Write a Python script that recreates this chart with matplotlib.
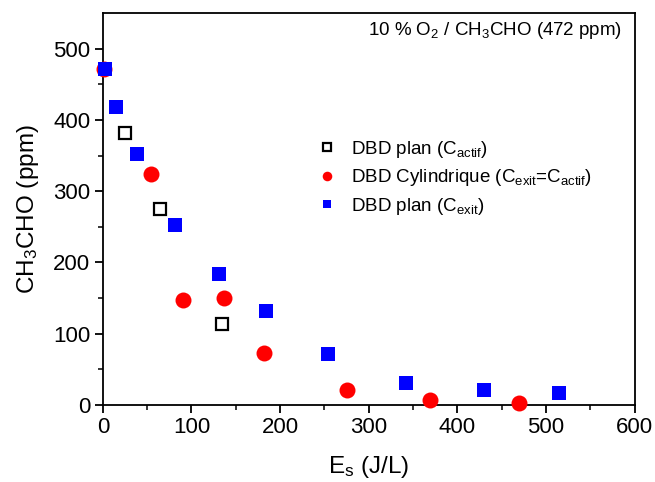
import numpy as np
import matplotlib
matplotlib.use('Agg')
import matplotlib.pyplot as plt

plt.rcParams['font.family'] = ['Liberation Sans', 'DejaVu Sans']
plt.rcParams['mathtext.fontset'] = 'custom'
plt.rcParams['mathtext.rm'] = 'Liberation Sans'
plt.rcParams['mathtext.it'] = 'Liberation Sans:italic'

# DBD plan (C_actif) - open black squares
es_actif = [25.1, 64.3, 134.2]
c_actif = [382, 275, 113]

# DBD cylindrique (C_exit = C_actif) - red circles
es_cyl = [1.5, 54, 90.5, 136.8, 181.8, 275.8, 369, 469.3]
c_cyl = [472, 324, 147.5, 150, 72.6, 21.5, 7, 3.2]

# DBD plan (C_exit) - blue squares
es_exit = [3, 15.4, 39, 81.5, 131.5, 183.8, 254.3, 342, 429.5, 514.4]
c_exit = [472, 418, 352, 253, 183, 132, 71, 31, 20.6, 16.4]

fig = plt.figure(figsize=(6.55, 4.82), dpi=100)
ax = fig.add_axes([0.157, 0.16, 0.812, 0.813])

ax.plot(es_cyl, c_cyl, 'o', color='#ff0000', markersize=11.5, markeredgewidth=0,
        label='DBD Cylindrique (C$_{\\mathregular{exit}}$=C$_{\\mathregular{actif}}$)', clip_on=False, zorder=3)
ax.plot(es_exit, c_exit, 's', color='#0000ff', markersize=10, markeredgewidth=0,
        label='DBD plan (C$_{\\mathregular{exit}}$)', clip_on=False, zorder=4)
ax.plot(es_actif, c_actif, 's', markerfacecolor='white', markeredgecolor='black',
        markersize=9, markeredgewidth=1.6,
        label='DBD plan (C$_{\\mathregular{actif}}$)', zorder=5)

ax.set_xlim(0, 600)
ax.set_ylim(0, 550)
ax.set_xticks([0, 100, 200, 300, 400, 500, 600])
ax.set_yticks([0, 100, 200, 300, 400, 500])
ax.set_xticks(np.arange(50, 600, 100), minor=True)
ax.set_yticks(np.arange(50, 550, 100), minor=True)
ax.tick_params(which='major', direction='out', length=6, width=1.3, labelsize=16, pad=3)
ax.tick_params(which='minor', direction='out', length=3.5, width=1.1)
for s in ax.spines.values():
    s.set_linewidth(1.3)

ax.set_xlabel('E$_{\\mathregular{s}}$ (J/L)', fontsize=17.5, labelpad=11)
ax.set_ylabel('CH$_{\\mathregular{3}}$CHO (ppm)', fontsize=17.5, labelpad=9)

ax.text(0.977, 0.955, '10 % O$_{\\mathregular{2}}$ / CH$_{\\mathregular{3}}$CHO (472 ppm)',
        transform=ax.transAxes, ha='right', va='center', fontsize=13.5)

h, l = ax.get_legend_handles_labels()
order = [2, 0, 1]
ax.legend([h[i] for i in order], [l[i] for i in order], loc='upper left',
          bbox_to_anchor=(0.372, 0.722), frameon=False, fontsize=13.5,
          markerscale=0.6, handlelength=1.0, handletextpad=0.8, labelspacing=0.4)

fig.savefig('out.png', dpi=100)
